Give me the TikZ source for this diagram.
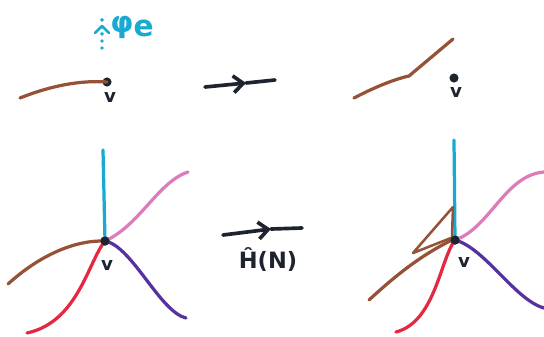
\documentclass[tikz,border=0pt]{standalone}
\usepackage{amsmath}
\usepackage{fontspec}
\newfontfamily\handfont{DejaVu Sans}
\usepackage{tikz}
\usetikzlibrary{arrows.meta, calc}
\usepackage{xcolor}
\definecolor{edgebrown}{RGB}{150,82,55}
\definecolor{edgecyan}{RGB}{25,170,210}
\definecolor{edgepink}{RGB}{220,125,185}
\definecolor{edgepurple}{RGB}{85,50,160}
\definecolor{edgered}{RGB}{228,40,65}
\definecolor{ink}{RGB}{30,35,48}

\begin{document}
\begin{tikzpicture}[x=0.025cm, y=-0.025cm,
  pen/.style={line width=2.3pt, line cap=round, line join=round},
  vdot/.style={circle, fill=ink, inner sep=0pt, minimum size=6.5pt},
  vlabel/.style={text=ink, font=\handfont\bfseries\fontsize{13}{13}\selectfont},
  mapsto/.style={pen, draw=ink, line width=2.6pt}]
\useasboundingbox (0,0) rectangle (544,336);
% top left: edge e ending at v
\coordinate (tlStart) at (20,98);
\node[vdot] (tlV) at (107,82) {};
\node[vlabel] (tlLab) at (110,97) {v};
\draw[pen, edgebrown] (tlStart) .. controls (50,86) and (80,80) .. (tlV.center);
% flow phi_e
\coordinate (phiBot) at (102,48);
\coordinate (phiTop) at (102,14);
\draw[pen, edgecyan, line width=2.8pt, dash pattern=on 0pt off 5pt] (phiBot) -- (phiTop);
\draw[pen, edgecyan, line width=1.8pt] (95,33) -- (102,26) -- (109,33);
\node[text=edgecyan, font=\handfont\bfseries\fontsize{21}{21}\selectfont, inner sep=0pt] (phiLab) at (132,27) {φ\raisebox{-3pt}{e}};
% top arrow
\coordinate (taA) at (205,87);
\coordinate (taM) at (246,83);
\coordinate (taB) at (275,80);
\draw[mapsto, -{Straight Barb[length=7pt, width=12pt]}] (taA) -- (taM);
\draw[mapsto] (taM) -- (taB);
% top right: edge moved away from v
\coordinate (trStart) at (354,98);
\coordinate (trBend) at (409,76);
\coordinate (trEnd) at (453,39);
\node[vdot] (trV) at (454,78) {};
\node[vlabel] (trLab) at (456,92) {v};
\draw[pen, edgebrown] (trStart) .. controls (375,87) and (395,79) .. (trBend) -- (trEnd);
% bottom left: star at v
\node[vdot] (blV) at (105,241) {};
\node[vlabel] (blLab) at (107,265) {v};
\draw[pen, edgecyan] (blV.center) -- (103,150);
\draw[pen, edgepink] (blV.center) .. controls (140,225) and (158,182) .. (188,172);
\draw[pen, edgebrown] (blV.center) .. controls (75,240) and (40,255) .. (8,284);
\draw[pen, edgered] (blV.center) .. controls (88,262) and (78,322) .. (27,333);
\draw[pen, edgepurple] (blV.center) .. controls (132,246) and (160,312) .. (186,318);
\node[vdot] at (blV) {};
% bottom arrow
\coordinate (baA) at (223,235);
\coordinate (baM) at (271,229);
\coordinate (baB) at (302,228);
\draw[mapsto, -{Straight Barb[length=7pt, width=12pt]}] (baA) -- (baM);
\draw[mapsto] (baM) -- (baB);
\node[vlabel, font=\handfont\bfseries\fontsize{16}{16}\selectfont] (baLab) at (268,260) {Ĥ(N)};
% bottom right: after the move
\node[vdot] (brV) at (455,240) {};
\node[vlabel] (brLab) at (464,262) {v};
\draw[pen, edgecyan] (brV.center) -- (454,140);
\draw[pen, edgepink] (brV.center) .. controls (490,228) and (505,175) .. (544,172);
\draw[pen, edgepurple] (brV.center) .. controls (485,248) and (515,300) .. (544,308);
\draw[pen, edgered] (brV.center) .. controls (440,260) and (435,322) .. (396,332);
\draw[pen, edgebrown] (369,300) .. controls (395,276) and (420,256) .. (450,241);
\draw[pen, edgebrown, line width=1.8pt] (451,238) -- (413,253) -- (453,207) -- (452,236);
\node[vdot] at (brV) {};
\end{tikzpicture}
\end{document}
